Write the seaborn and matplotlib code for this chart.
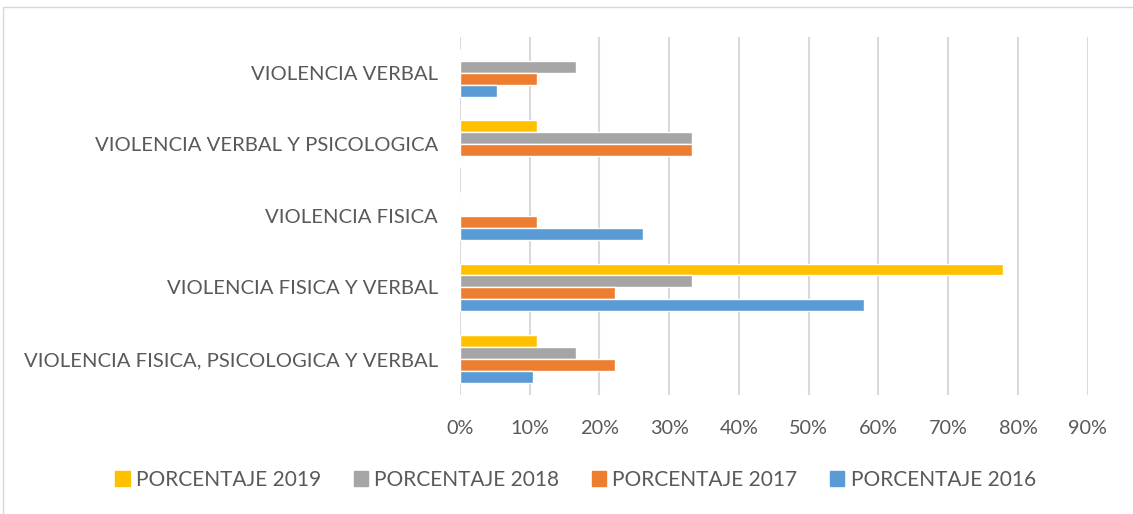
import pandas as pd
import matplotlib.pyplot as plt
import matplotlib.patches as mpatches
from matplotlib.ticker import PercentFormatter, MultipleLocator
import seaborn as sns

# Categories from top to bottom as drawn
categorias = [
    "VIOLENCIA VERBAL",
    "VIOLENCIA VERBAL Y PSICOLOGICA",
    "VIOLENCIA FISICA",
    "VIOLENCIA FISICA Y VERBAL",
    "VIOLENCIA FISICA, PSICOLOGICA Y VERBAL",
]
series = ["PORCENTAJE 2019", "PORCENTAJE 2018", "PORCENTAJE 2017", "PORCENTAJE 2016"]

pct_2019 = [0.0, 11.1, 0.0, 77.8, 11.1]
pct_2018 = [16.7, 33.3, 0.0, 33.3, 16.7]
pct_2017 = [11.1, 33.3, 11.1, 22.2, 22.2]
pct_2016 = [5.3, 0.0, 26.3, 57.9, 10.5]

colores = ["#FFC000", "#A5A5A5", "#ED7D31", "#5B9BD5"]

valores = [pct_2019, pct_2018, pct_2017, pct_2016]
rows = []
for s, vals in zip(series, valores):
    for c, v in zip(categorias, vals):
        rows.append({"categoria": c, "serie": s, "valor": v})
df = pd.DataFrame(rows)

sns.set_style("white")
plt.rcParams["font.family"] = ["Lato", "DejaVu Sans"]
texto = "#595959"

fig = plt.figure(figsize=(11.33, 5.14), dpi=100)
ax = fig.add_axes([0.406, 0.232, 0.554, 0.696])

sns.barplot(data=df, x="valor", y="categoria", hue="serie", order=categorias,
            hue_order=series, palette=colores, orient="h", width=0.667,
            gap=0, saturation=1, errorbar=None, ax=ax, legend=False)

ax.set_xlim(0, 90)
ax.xaxis.set_major_locator(MultipleLocator(10))
ax.xaxis.set_major_formatter(PercentFormatter(100, decimals=0))
ax.grid(axis="x", color="#D9D9D9", linewidth=1.5)
ax.set_axisbelow(True)
for sp in ax.spines.values():
    sp.set_visible(False)
ax.set_xlabel("")
ax.set_ylabel("")
ax.tick_params(axis="y", length=0, labelsize=14.6, labelcolor=texto, pad=16)
ax.tick_params(axis="x", length=0, labelsize=14.3, labelcolor=texto, pad=18)

handles = [mpatches.Patch(color=c, label=s) for s, c in zip(series, colores)]
fig.legend(handles=handles, loc="center", bbox_to_anchor=(0.508, 0.066), ncol=4,
           frameon=False, fontsize=15, labelcolor=texto, handlelength=0.7,
           handleheight=0.7, handletextpad=0.3, columnspacing=1.55)

# light chart border
fig.patches.append(mpatches.Rectangle((0.003, -0.01), 1.2, 0.997, transform=fig.transFigure,
                                      fill=False, edgecolor="#D9D9D9", linewidth=1))

fig.savefig("out.png", dpi=100)
